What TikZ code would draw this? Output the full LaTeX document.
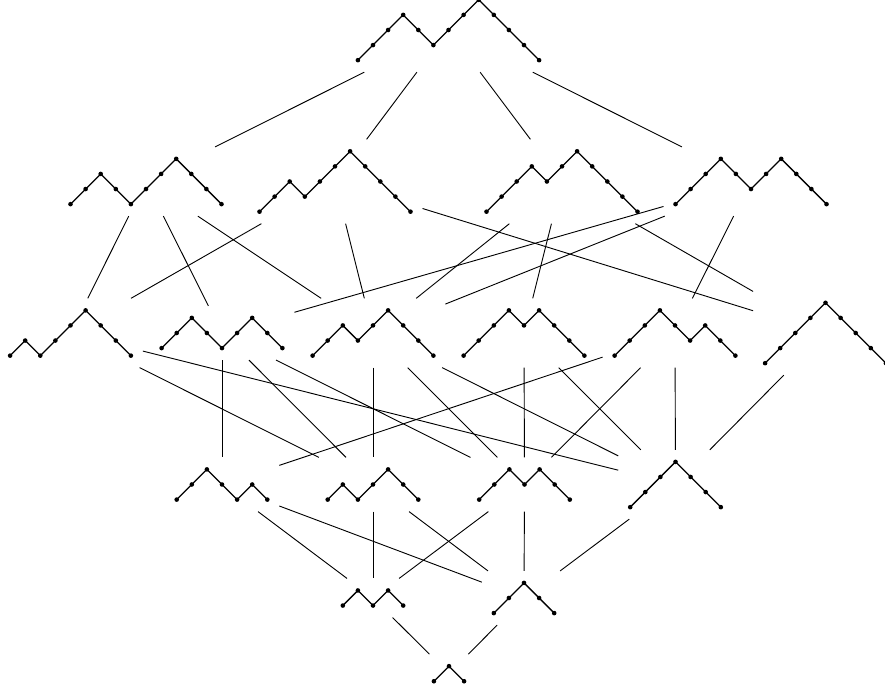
\documentclass[tikz,border=0pt]{standalone}
\usetikzlibrary{calc}

% Dyck path: node, steps (1 = up, -1 = down)
\newcommand{\dyck}[2]{%
  \draw[dline] ($(#1.south west)+(\pd,\pd)$) foreach \s in {#2} { -- ++(\st,\s*\st) };
  \fill ($(#1.south west)+(\pd,\pd)$) circle[radius=\dr] foreach \s in {#2} { ++(\st,\s*\st) circle[radius=\dr] };
}

\begin{document}
\begin{tikzpicture}[x=0.025cm,y=0.025cm,
  dbox/.style 2 args={inner sep=0pt,outer sep=0pt,
    minimum width={(2*#1*\st+2*\pd)*0.025cm},minimum height={(#2*\st+2*\pd)*0.025cm}},
  dline/.style={line width=0.9pt,line join=round},
  cover/.style={line width=0.65pt}]
  \def\st{15.1}\def\pd{12}\def\dr{2.3}
  \useasboundingbox (0,0) rectangle (885,691);
  % 頂点
  \node[dbox={6}{4}] (p5) at (448.5,661) {};
  \node[dbox={5}{3}] (p4a) at (146,509.5) {};
  \node[dbox={5}{4}] (p4b) at (335,509.5) {};
  \node[dbox={5}{4}] (p4c) at (562,509.5) {};
  \node[dbox={5}{3}] (p4d) at (751,509.5) {};
  \node[dbox={4}{3}] (p3a) at (70.5,358) {};
  \node[dbox={4}{2}] (p3b) at (222,358) {};
  \node[dbox={4}{3}] (p3c) at (373,358) {};
  \node[dbox={4}{3}] (p3d) at (524,358) {};
  \node[dbox={4}{3}] (p3e) at (675,358) {};
  \node[dbox={4}{4}] (p3f) at (825.5,358) {};
  \node[dbox={3}{2}] (p2a) at (222,206.5) {};
  \node[dbox={3}{2}] (p2b) at (373,206.5) {};
  \node[dbox={3}{2}] (p2c) at (524.5,206.5) {};
  \node[dbox={3}{3}] (p2d) at (675.5,206.5) {};
  \node[dbox={2}{1}] (p1a) at (373,93) {};
  \node[dbox={2}{2}] (p1b) at (524,93) {};
  \node[dbox={1}{1}] (p0) at (449,17.3) {};
  % 経路
  \dyck{p5}{1,1,1,-1,-1,1,1,1,-1,-1,-1,-1}
  \dyck{p4a}{1,1,-1,-1,1,1,1,-1,-1,-1}
  \dyck{p4b}{1,1,-1,1,1,1,-1,-1,-1,-1}
  \dyck{p4c}{1,1,1,-1,1,1,-1,-1,-1,-1}
  \dyck{p4d}{1,1,1,-1,-1,1,1,-1,-1,-1}
  \dyck{p3a}{1,-1,1,1,1,-1,-1,-1}
  \dyck{p3b}{1,1,-1,-1,1,1,-1,-1}
  \dyck{p3c}{1,1,-1,1,1,-1,-1,-1}
  \dyck{p3d}{1,1,1,-1,1,-1,-1,-1}
  \dyck{p3e}{1,1,1,-1,-1,1,-1,-1}
  \dyck{p3f}{1,1,1,1,-1,-1,-1,-1}
  \dyck{p2a}{1,1,-1,-1,1,-1}
  \dyck{p2b}{1,-1,1,1,-1,-1}
  \dyck{p2c}{1,1,-1,1,-1,-1}
  \dyck{p2d}{1,1,1,-1,-1,-1}
  \dyck{p1a}{1,-1,1,-1}
  \dyck{p1b}{1,1,-1,-1}
  \dyck{p0}{1,-1}
  % 被覆関係
  \foreach \a/\b in {p5/p4a,p5/p4b,p5/p4c,p5/p4d,
      p4a/p3a,p4a/p3b,p4a/p3c,p4b/p3a,p4b/p3c,p4b/p3f,
      p4c/p3c,p4c/p3d,p4c/p3f,p4d/p3b,p4d/p3c,p4d/p3e,
      p3a/p2b,p3a/p2d,p3b/p2a,p3b/p2b,p3b/p2c,p3c/p2b,p3c/p2c,p3c/p2d,
      p3d/p2c,p3d/p2d,p3e/p2a,p3e/p2c,p3e/p2d,p3f/p2d,
      p2a/p1a,p2a/p1b,p2b/p1a,p2b/p1b,p2c/p1a,p2c/p1b,p2d/p1b,
      p1a/p0,p1b/p0}
    \draw[cover] (\a) -- (\b);
\end{tikzpicture}
\end{document}
